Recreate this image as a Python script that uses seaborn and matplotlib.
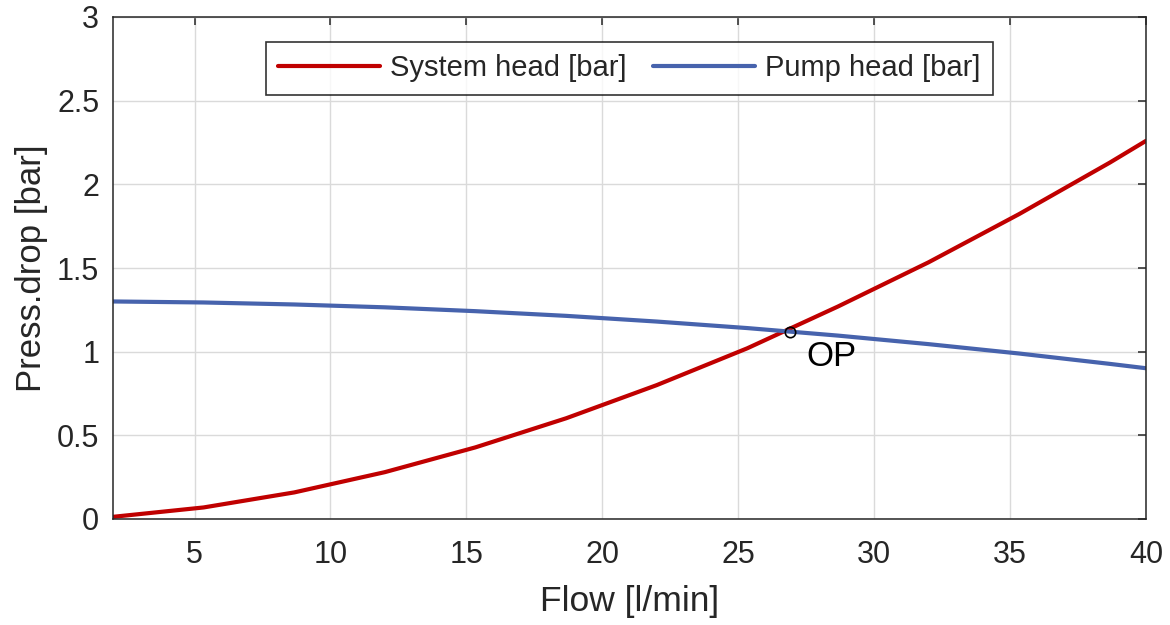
import matplotlib
matplotlib.use("Agg")
import matplotlib.pyplot as plt
import seaborn as sns
import pandas as pd

flow = [2.0, 5.33, 8.67, 12.0, 15.33, 18.67, 22.0, 25.33, 28.67, 32.0, 35.33, 38.67, 40.0]
system_head = [0.013, 0.069, 0.159, 0.28, 0.428, 0.602, 0.80, 1.02, 1.27, 1.534, 1.822, 2.13, 2.26]
pump_head = [1.300, 1.294, 1.282, 1.265, 1.242, 1.214, 1.180, 1.141, 1.096, 1.045, 0.989, 0.927, 0.901]
op_flow = 26.9
op_head = 1.12
series_names = ["System head [bar]", "Pump head [bar]"]
x_ticks = [5, 10, 15, 20, 25, 30, 35, 40]
y_ticks = [0, 0.5, 1, 1.5, 2, 2.5, 3]
y_tick_labels = ["0", "0.5", "1", "1.5", "2", "2.5", "3"]

sns.set_style("white")
plt.rcParams["font.family"] = ["Liberation Sans", "DejaVu Sans"]

df = pd.DataFrame({
    "flow": flow * 2,
    "head": system_head + pump_head,
    "series": [series_names[0]] * len(flow) + [series_names[1]] * len(flow),
})

fig = plt.figure(figsize=(11.7, 6.25), dpi=100)
ax = fig.add_axes([0.0966, 0.1696, 0.8829, 0.8032])

sns.lineplot(data=df, x="flow", y="head", hue="series",
             palette={series_names[0]: "#C00000", series_names[1]: "#4763AD"},
             linewidth=3.0, ax=ax, sort=False, estimator=None)

ax.plot([op_flow], [op_head], marker="o", markersize=7.5, markerfacecolor="none",
        markeredgecolor="black", markeredgewidth=1.2, linestyle="none")
ax.text(op_flow + 0.6, op_head - 0.15, "OP", fontsize=25, color="black",
        ha="left", va="center")

ax.set_xlim(2, 40)
ax.set_ylim(0, 3)
ax.set_xticks(x_ticks)
ax.set_xticklabels([str(t) for t in x_ticks])
ax.set_yticks(y_ticks)
ax.set_yticklabels(y_tick_labels)
ax.grid(True, color="#dadada", linewidth=1.0)
ax.set_axisbelow(True)

for s in ax.spines.values():
    s.set_visible(True)
    s.set_color("#262626")
    s.set_linewidth(1.1)

ax.tick_params(axis="both", which="both", direction="in", length=6, width=1.1,
               color="#262626", labelsize=22, labelcolor="#262626",
               top=True, right=True)
ax.tick_params(axis="x", pad=15)
ax.tick_params(axis="y", pad=10)

ax.set_xlabel("Flow [l/min]", fontsize=25.5, color="#262626", labelpad=11)
ax.set_ylabel("Press.drop [bar]", fontsize=25, color="#262626", labelpad=6)

leg = ax.legend(loc="upper center", bbox_to_anchor=(0.5, 0.95), ncol=2,
                fontsize=21, frameon=True, fancybox=False, edgecolor="black",
                handlelength=3.5, columnspacing=0.9, handletextpad=0.35,
                borderpad=0.42, borderaxespad=0, title=None)
leg.get_frame().set_linewidth(1.2)

fig.savefig("out.png", dpi=100)
